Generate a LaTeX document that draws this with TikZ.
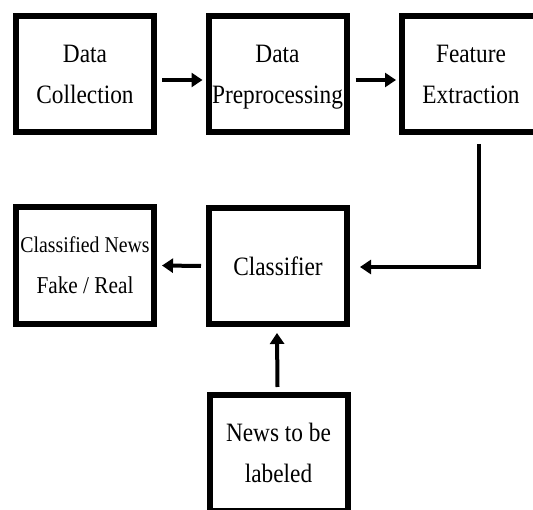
\documentclass[tikz,border=0pt]{standalone}
\usepackage{fontspec}
\setmainfont{Liberation Serif}[FakeStretch=0.88]
\usetikzlibrary{arrows.meta}
\begin{document}
\begin{tikzpicture}[x=1pt,y=-1pt,
  box/.style={draw, line width=6pt, minimum width=138pt, minimum height=116pt,
    align=center, inner sep=0pt, text depth=0pt, font=\fontsize{26.5}{41}\selectfont},
  arr/.style={line width=4pt, -{Triangle[length=11pt,width=14pt]}}]
\useasboundingbox (0,0) rectangle (533,510);
\clip (0,0) rectangle (533,510);
\node[box] (dc) at (85,74) {Data\\Collection};
\node[box] (dp) at (277.5,74) {Data\\Preprocessing};
\node[box] (fe) at (471,74) {Feature\\Extraction};
\node[box, minimum height=117pt] (cn) at (85,265.5) {{\fontsize{22.5}{40}\selectfont Classified News}\\{\fontsize{24.2}{40}\selectfont Fake / Real}};
\node[box] (cl) at (278,266) {Classifier};
\node[box] (nl) at (278.5,453) {News to be\\labeled};
\draw[arr] ([xshift=5pt,yshift=-6pt]dc.east) -- ([xshift=-3pt,yshift=-6pt]dp.west);
\draw[arr] ([xshift=6pt,yshift=-6pt]dp.east) -- ([xshift=-3pt,yshift=-6pt]fe.west);
\draw[arr] ([xshift=8pt,yshift=-9pt]fe.south) |- ([xshift=10pt,yshift=-1pt]cl.east);
\draw[arr] ([xshift=-5pt]cl.west) -- ([xshift=5pt]cn.east);
\draw[arr] ([xshift=-1pt,yshift=5pt]nl.north) -- ([xshift=-1pt,yshift=-6pt]cl.south);
\end{tikzpicture}
\end{document}
